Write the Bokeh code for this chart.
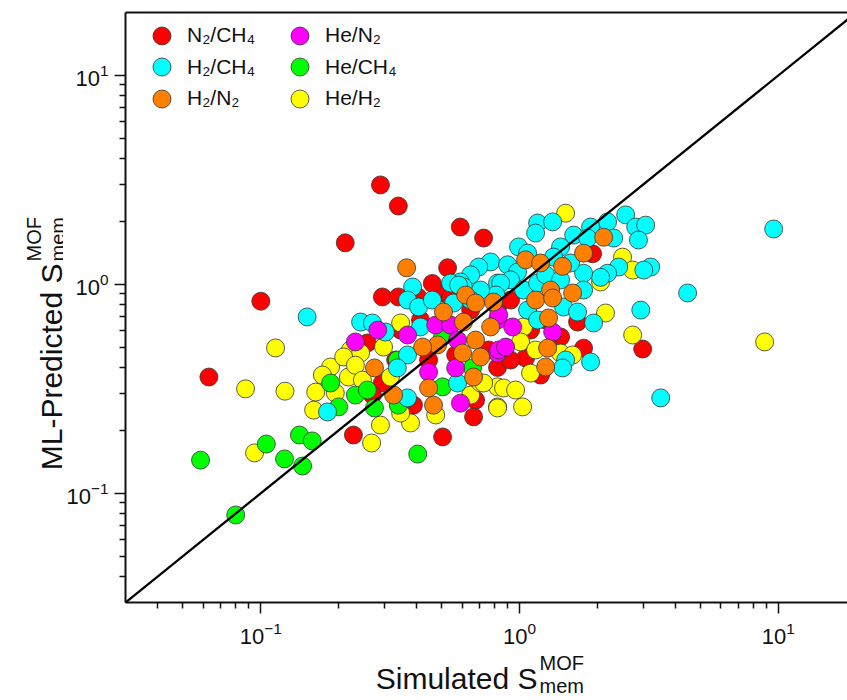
import math
from bokeh.plotting import figure
from bokeh.layouts import row, column
from bokeh.models import LogAxis, FixedTicker, Slope, Label, Legend, LegendItem, Range1d
from bokeh.embed import file_html
from bokeh.resources import INLINE

# ---- data (simulated, ML-predicted) ----
n2ch4 = [(0.29, 2.99), (0.34, 2.37), (0.212, 1.58), (0.100, 0.83), (0.063, 0.36), (0.228, 0.19),
         (0.504, 0.186), (0.59, 1.88), (0.726, 1.665), (0.295, 0.87), (0.34, 0.87), (0.404, 0.87),
         (0.495, 0.91), (0.822, 0.78), (0.258, 0.524), (0.822, 0.40), (0.295, 0.337), (0.389, 0.264),
         (0.676, 0.279), (0.664, 0.232), (1.055, 0.444), (1.44, 0.56), (1.767, 0.495), (1.675, 0.66),
         (1.915, 1.40), (2.99, 0.49), (0.541, 0.86), (0.647, 0.753), (0.923, 0.841), (0.414, 0.675),
         (0.347, 0.604), (1.103, 0.604), (1.261, 0.675), (0.445, 0.434), (0.566, 0.459), (0.923, 0.434),
         (1.205, 0.368), (0.332, 0.434), (0.27, 0.295), (0.759, 0.485), (0.527, 1.20), (0.46, 1.01)]

h2ch4 = [(0.151, 0.698), (0.773, 1.28), (0.695, 1.21), (0.647, 1.11), (0.591, 1.026), (0.541, 1.014),
         (0.607, 0.971), (0.822, 1.014), (0.556, 0.814), (0.243, 0.66), (0.27, 0.653), (0.303, 0.591),
         (0.414, 0.625), (0.386, 0.971), (0.369, 0.841), (0.407, 0.779), (0.369, 0.459), (0.337, 0.398),
         (0.181, 0.245), (0.369, 0.286), (0.576, 0.337), (1.174, 1.965), (1.342, 1.99), (1.153, 1.76),
         (2.57, 2.15), (2.81, 1.88), (3.07, 1.92), (2.88, 1.63), (2.188, 1.99), (1.881, 1.88),
         (1.618, 1.72), (2.31, 1.665), (1.832, 1.665), (1.44, 1.51), (0.991, 1.51), (1.074, 1.41),
         (3.21, 1.21), (3.02, 1.17), (2.415, 1.21), (2.188, 1.13), (2.056, 1.08), (1.767, 1.13),
         (1.574, 1.265), (1.353, 1.35), (0.899, 1.24), (0.982, 1.145), (0.923, 1.05), (0.845, 1.014),
         (0.581, 0.992), (1.036, 0.939), (1.174, 1.014), (1.767, 0.939), (1.479, 0.779), (1.675, 0.737),
         (1.074, 0.753), (1.174, 0.675), (1.932, 0.653), (1.506, 0.434), (1.466, 0.398), (1.881, 0.425),
         (2.94, 0.753), (4.46, 0.909), (9.59, 1.84), (3.51, 0.286), (1.261, 1.11), (1.44, 1.05),
         (0.81, 0.889), (0.707, 0.939), (0.647, 0.841), (0.46, 0.841)]

h2n2 = [(0.366, 1.20), (0.619, 0.889), (0.676, 0.814), (0.508, 0.737), (0.793, 0.823), (0.607, 0.66),
        (0.482, 0.513), (0.422, 0.501), (0.676, 0.541), (0.773, 0.625), (0.602, 0.469), (0.707, 0.449),
        (0.275, 0.398), (0.326, 0.295), (0.445, 0.319), (0.664, 0.36), (0.465, 0.264), (2.113, 1.68),
        (1.767, 1.41), (1.466, 1.22), (1.055, 1.31), (1.205, 1.265), (1.153, 0.841), (1.318, 0.939),
        (1.342, 0.86), (1.603, 0.909), (1.294, 0.69), (1.283, 0.495), (1.261, 0.402)]

hen2 = [(0.283, 0.604), (0.232, 0.53), (0.369, 0.572), (0.474, 0.638), (0.541, 0.638), (0.576, 0.541),
        (0.822, 0.675), (0.822, 0.469), (0.445, 0.38), (0.566, 0.398), (0.591, 0.27), (0.83, 0.713),
        (0.94, 0.625), (1.342, 0.591), (0.83, 0.485), (0.883, 0.501)]

hech4 = [(0.0585, 0.144), (0.080, 0.0787), (0.105, 0.172), (0.1235, 0.146), (0.141, 0.19), (0.158, 0.178),
         (0.145, 0.135), (0.404, 0.154), (0.186, 0.337), (0.20, 0.259), (0.232, 0.295), (0.258, 0.312),
         (0.275, 0.256), (0.34, 0.264), (0.337, 0.434), (0.504, 0.56), (0.504, 0.323), (0.658, 0.398)]

heh2 = [(0.114, 0.496), (0.0873, 0.316), (0.124, 0.308), (0.0946, 0.156), (0.268, 0.174), (0.347, 0.653),
        (0.222, 0.485), (0.298, 0.501), (0.243, 0.469), (0.186, 0.402), (0.209, 0.449), (0.218, 0.36),
        (0.163, 0.305), (0.160, 0.25), (0.194, 0.302), (0.317, 0.36), (0.29, 0.212), (0.379, 0.217),
        (0.347, 0.242), (0.474, 0.237), (0.647, 0.295), (0.822, 0.259), (0.822, 0.323), (0.707, 0.337),
        (1.506, 2.19), (2.50, 1.35), (2.735, 1.17), (2.056, 1.026), (2.148, 0.729), (1.036, 0.625),
        (1.009, 0.53), (1.153, 0.485), (1.44, 0.469), (1.603, 0.459), (1.103, 0.376), (0.726, 0.337),
        (0.867, 0.319), (0.965, 0.312), (0.822, 0.256), (1.027, 0.259), (2.735, 0.572), (8.85, 0.53),
        (0.173, 0.368), (0.232, 0.41), (0.247, 0.348)]

series_labels = ["N\u2082/CH\u2084", "H\u2082/CH\u2084", "H\u2082/N\u2082",
                 "He/N\u2082", "He/CH\u2084", "He/H\u2082"]
series_data = [n2ch4, h2ch4, h2n2, hen2, hech4, heh2]
series_colors = ["#FF0000", "#00FFFF", "#FF8000", "#FF00FF", "#00FF00", "#FFFF00"]
draw_order = [0, 5, 4, 1, 3, 2]

major_ticks = [0.1, 1, 10]
minor_ticks = [0.04, 0.05, 0.06, 0.07, 0.08, 0.09,
               0.2, 0.3, 0.4, 0.5, 0.6, 0.7, 0.8, 0.9,
               2, 3, 4, 5, 6, 7, 8, 9]

FONT = "Liberation Sans"
INK = "#111111"

W_TOTAL, H_TOTAL = 847, 700
W_LEFT = 63
H_TOP = 652
FRAME_LEFT, FRAME_TOP, FRAME_BOTTOM = 125, 12, 602

p = figure(width=W_TOTAL - W_LEFT, height=H_TOP, x_axis_type="log", y_axis_type="log",
           x_range=Range1d(0.03, 18.5), y_range=Range1d(0.03, 20),
           output_backend="svg", toolbar_location=None, title=None,
           min_border_left=FRAME_LEFT - W_LEFT, min_border_right=0,
           min_border_top=FRAME_TOP, min_border_bottom=H_TOP - FRAME_BOTTOM)
p.outline_line_color = None
p.grid.visible = False

for ax in (p.xaxis[0], p.yaxis[0]):
    ax.ticker = FixedTicker(ticks=major_ticks, minor_ticks=minor_ticks)
    ax.axis_line_width = 2
    ax.axis_line_color = INK
    ax.major_tick_line_width = 1.5
    ax.minor_tick_line_width = 1.5
    ax.major_tick_line_color = INK
    ax.minor_tick_line_color = INK
    ax.major_tick_in = 0
    ax.major_tick_out = 11
    ax.minor_tick_in = 0
    ax.minor_tick_out = 6
    ax.major_label_text_font = FONT
    ax.major_label_text_font_size = "22px"
    ax.major_label_text_color = INK
p.xaxis[0].major_label_standoff = 8
p.yaxis[0].major_label_standoff = 6

top = LogAxis(ticker=FixedTicker(ticks=[]), axis_line_width=2, axis_line_color=INK,
              major_label_text_font_size="0px", major_tick_out=0, major_tick_in=0,
              minor_tick_out=0, minor_tick_in=0)
p.add_layout(top, "above")

renderers = [None] * 6
for i in draw_order:
    pts = series_data[i]
    xs = [a for a, b in pts]
    ys = [b for a, b in pts]
    renderers[i] = p.scatter(xs, ys, size=18, fill_color=series_colors[i],
                             line_color="#333333", line_width=0.8)

p.add_layout(Slope(gradient=1, y_intercept=0, line_color="black", line_width=2.3))

# legend: 3 rows x 2 columns, one horizontal legend per row
row_centers = [35, 66.7, 98.3]
for k, yc in enumerate(row_centers):
    items = [LegendItem(label=series_labels[k], renderers=[renderers[k]]),
             LegendItem(label=series_labels[k + 3], renderers=[renderers[k + 3]])]
    lg = Legend(items=items, orientation="horizontal",
                location=(14, FRAME_BOTTOM - (yc + 22.5)),
                glyph_width=45, glyph_height=45, spacing=0, label_standoff=3,
                label_width=90, label_height=22, padding=0, margin=0,
                border_line_color=None, background_fill_alpha=0,
                label_text_font=FONT, label_text_font_size="21px", label_text_color=INK)
    p.add_layout(lg)

common = dict(x_units="screen", y_units="screen", text_font=FONT, text_color=INK,
              text_baseline="alphabetic")

# left strip: y-axis title (its frame lines up with the main frame: canvas y 12..602)
fl = figure(width=W_LEFT, height=H_TOP, output_backend="svg", toolbar_location=None, title=None,
            x_axis_location=None, y_axis_location=None, min_border=0,
            x_range=Range1d(0, W_LEFT), y_range=Range1d(0, H_TOP))
fl.outline_line_color = None
fl.grid.visible = False
FL_BOTTOM = FRAME_BOTTOM
fl.add_layout(Label(x=51, y=FL_BOTTOM - 263, text="ML-Predicted S", angle=math.pi / 2,
                    text_align="right", text_font_size="30px", **common))
fl.add_layout(Label(x=33, y=FL_BOTTOM - 261, text="MOF", angle=math.pi / 2,
                    text_align="left", text_font_size="20px", **common))
fl.add_layout(Label(x=57, y=FL_BOTTOM - 261, text="mem", angle=math.pi / 2,
                    text_align="left", text_font_size="20px", **common))

# bottom strip: x-axis title (its frame was measured to end at canvas y 710)
H_BOT = H_TOTAL - H_TOP
fb = figure(width=W_TOTAL, height=H_BOT, output_backend="svg", toolbar_location=None, title=None,
            x_axis_location=None, y_axis_location=None, min_border=0,
            x_range=Range1d(0, W_TOTAL), y_range=Range1d(0, H_BOT))
fb.outline_line_color = None
fb.grid.visible = False
FB_BOTTOM = 710
fb.add_layout(Label(x=537, y=FB_BOTTOM - 688, text="Simulated S", text_align="right",
                    text_font_size="30px", **common))
fb.add_layout(Label(x=539, y=FB_BOTTOM - 672, text="MOF", text_align="left",
                    text_font_size="20px", **common))
fb.add_layout(Label(x=539, y=FB_BOTTOM - 695, text="mem", text_align="left",
                    text_font_size="20px", **common))

layout = column(row(fl, p, spacing=0), fb, spacing=0)
open("out.html", "w").write(file_html(layout, INLINE))
